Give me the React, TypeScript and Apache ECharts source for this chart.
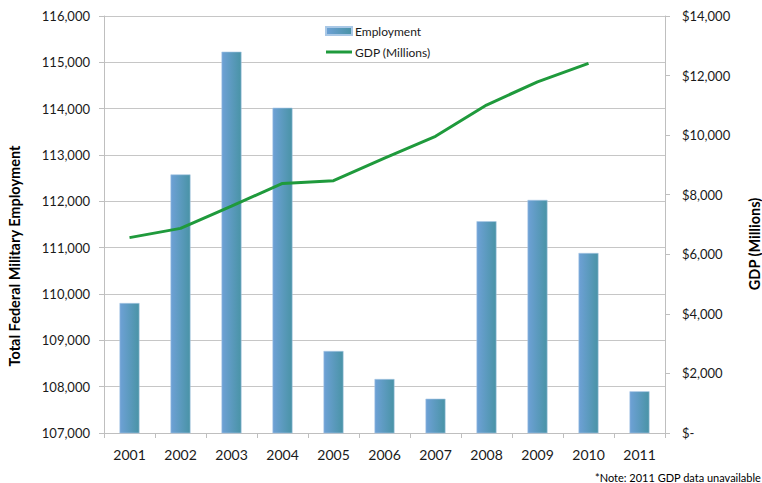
import React, { useEffect, useRef } from "react";
import * as echarts from "echarts";

const years = ["2001", "2002", "2003", "2004", "2005", "2006", "2007", "2008", "2009", "2010", "2011"];
const employment = [109805, 112580, 115230, 114020, 108770, 108165, 107740, 111570, 112030, 110885, 107900];
const gdp: (number | null)[] = [6560, 6870, 7620, 8380, 8470, 9230, 9960, 11010, 11790, 12410, null];

const leftTitle = "Total Federal Military Employment";
const rightTitle = "GDP (Millions)";
const note = "*Note: 2011 GDP data unavailable";

const FONT = "Lato, 'Liberation Sans', sans-serif";

export default function App() {
  const ref = useRef<HTMLDivElement>(null);
  useEffect(() => {
    if (!ref.current) return;
    const chart = echarts.init(ref.current, undefined, { renderer: "svg" });
    const axisGray = "#bfbfbf";
    chart.setOption({
      animation: false,
      backgroundColor: "#ffffff",
      textStyle: { fontFamily: FONT },
      grid: { left: 104, right: 97, top: 16, bottom: 50, containLabel: false },
      legend: {
        orient: "vertical",
        left: 321,
        top: 22,
        padding: [3, 10, 1, 4],
        itemGap: 9,
        itemWidth: 26,
        itemHeight: 8,
        backgroundColor: "#ffffff",
        textStyle: { fontSize: 12, color: "#1a1a1a", fontFamily: FONT, padding: [0, 0, 0, -2] },
        data: [
          { name: "Employment", icon: "rect" },
          { name: "GDP (Millions)", icon: "path://M0,0H26V3H0Z", itemStyle: { color: "#1f9a3c" } },
        ],
      },
      xAxis: {
        type: "category",
        data: years,
        boundaryGap: true,
        axisLine: { lineStyle: { color: axisGray, width: 1 } },
        axisTick: { show: true, length: 5, lineStyle: { color: axisGray } },
        axisLabel: { color: "#1a1a1a", fontSize: 14, margin: 14, fontFamily: FONT },
      },
      yAxis: [
        {
          type: "value",
          min: 107000,
          max: 116000,
          interval: 1000,
          position: "left",
          axisLine: { show: true, lineStyle: { color: axisGray } },
          axisTick: { show: true, length: 5, lineStyle: { color: axisGray } },
          axisLabel: {
            color: "#1a1a1a",
            fontSize: 13,
            margin: 14,
            fontFamily: FONT,
            formatter: (v: number) => v.toLocaleString("en-US"),
          },
          splitLine: { show: true, lineStyle: { color: "#c6c6c6", width: 1 } },
        },
        {
          type: "value",
          min: 0,
          max: 14000,
          interval: 2000,
          position: "right",
          axisLine: { show: true, lineStyle: { color: axisGray } },
          axisTick: { show: true, length: 5, lineStyle: { color: axisGray } },
          axisLabel: {
            color: "#1a1a1a",
            fontSize: 13,
            margin: 17,
            fontFamily: FONT,
            formatter: (v: number) => (v === 0 ? "$-" : "$" + v.toLocaleString("en-US")),
          },
          splitLine: { show: false },
        },
      ],
      series: [
        {
          name: "Employment",
          type: "bar",
          yAxisIndex: 0,
          data: employment,
          barWidth: 20,
          itemStyle: {
            color: new echarts.graphic.LinearGradient(0, 0, 1, 0, [
              { offset: 0, color: "#6ea1d6" },
              { offset: 1, color: "#4993a6" },
            ]),
            borderColor: "#a9c8e6",
            borderWidth: 0.6,
          },
        },
        {
          name: "GDP (Millions)",
          type: "line",
          yAxisIndex: 1,
          data: gdp,
          showSymbol: false,
          symbol: "none",
          connectNulls: false,
          lineStyle: { color: "#1f9a3c", width: 3 },
          itemStyle: { color: "#1f9a3c" },
        },
      ],
      graphic: [
        {
          type: "text",
          x: 14,
          y: 256,
          rotation: Math.PI / 2,
          style: {
            text: leftTitle,
            textAlign: "center",
            textVerticalAlign: "middle",
            font: `bold 14.5px ${FONT}`,
            fill: "#000000",
          },
        },
        {
          type: "text",
          x: 754,
          y: 244,
          rotation: Math.PI / 2,
          style: {
            text: rightTitle,
            textAlign: "center",
            textVerticalAlign: "middle",
            font: `bold 14.5px ${FONT}`,
            fill: "#000000",
          },
        },
        {
          type: "text",
          x: 595,
          y: 477,
          style: {
            text: note,
            textAlign: "left",
            textVerticalAlign: "middle",
            font: `11px ${FONT}`,
            fill: "#000000",
          },
        },
      ],
    });
    return () => chart.dispose();
  }, []);
  return <div ref={ref} style={{ width: 762, height: 483, position: "absolute", left: 0, top: 0 }} />;
}
